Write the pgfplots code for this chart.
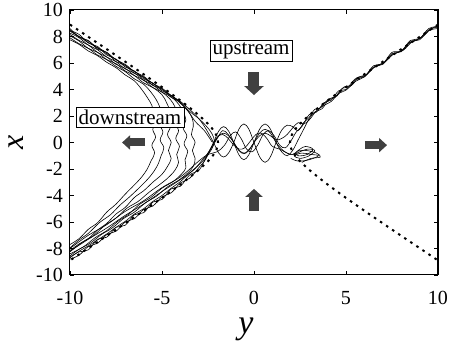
\documentclass[border=0pt]{standalone}
\usepackage{pgfplots}
\pgfplotsset{compat=1.18}
\usepackage{fontspec}
\setmainfont{Liberation Serif}
\usetikzlibrary{arrows.meta}

\begin{document}
\begin{tikzpicture}
\begin{axis}[
  scale only axis, width=368pt, height=265pt,
  xmin=-10,xmax=10,ymin=-10,ymax=10,
  xtick={-10,-5,0,5,10}, ytick={-10,-8,-6,-4,-2,0,2,4,6,8,10},
  tick align=inside, major tick length=4pt,
  axis line style={line width=1pt},
  every tick/.style={line width=0.8pt,black},
  /pgf/number format/assume math mode=true,
  tick label style={font=\fontsize{20}{24}\selectfont, inner sep=1pt},
  xticklabel style={yshift=-15pt},
  yticklabel style={xshift=-6pt},
  xlabel={\fontsize{34}{34}\selectfont\itshape y},
  ylabel={\fontsize{32}{32}\selectfont\itshape x},
  every axis x label/.style={at={(axis description cs:0.478,-0.204)},anchor=center},
  every axis y label/.style={at={(axis description cs:-0.146,0.5)},anchor=center,rotate=90},
  traj/.style={black, line width=0.6pt, smooth, tension=0.6},
]
% dashed boundary (left branch)
\addplot[black, line width=2pt, dash pattern=on 2.5pt off 4.8pt, smooth, tension=0.4] coordinates {
(-10,8.90) (-9,7.97) (-8,7.04) (-7,6.10) (-6,5.15) (-5,4.18) (-4.5,3.68) (-4,3.17) (-3.5,2.63) (-3,2.06) (-2.5,1.41) (-2.25,1.01) (-2.1,0.70) (-2.0,0.38) (-1.955,0)
(-2.0,-0.38) (-2.1,-0.70) (-2.25,-1.01) (-2.5,-1.41) (-3,-2.06) (-3.5,-2.63) (-4,-3.17) (-4.5,-3.68) (-5,-4.18) (-6,-5.15) (-7,-6.10) (-8,-7.04) (-9,-7.97) (-10,-8.90)};
% dashed boundary (right branch)
\addplot[black, line width=2pt, dash pattern=on 2.5pt off 4.8pt, smooth, tension=0.4] coordinates {
(10,8.90) (9,7.97) (8,7.04) (7,6.10) (6,5.15) (5,4.18) (4.5,3.68) (4,3.17) (3.5,2.63) (3,2.06) (2.5,1.41) (2.25,1.01) (2.1,0.70) (2.0,0.38) (1.955,0)
(2.0,-0.38) (2.1,-0.70) (2.25,-1.01) (2.5,-1.41) (3,-2.06) (3.5,-2.63) (4,-3.17) (4.5,-3.68) (5,-4.18) (6,-5.15) (7,-6.10) (8,-7.04) (9,-7.97) (10,-8.90)};

% downstream trajectories
\addplot[traj] coordinates {
(-10,7.75) (-9.5,7.4) (-9,6.9) (-8.5,6.55) (-8,6.05) (-7.5,5.65) (-7,5.1) (-6.5,4.65) (-6.1,4.0) (-5.8,3.4) (-5.55,2.8) (-5.45,2.2) (-5.3,1.6) (-5.5,1.0) (-5.35,0.4) (-5.55,-0.2) (-5.4,-0.8) (-5.6,-1.4) (-5.8,-2.0) (-6.1,-2.6) (-6.5,-3.2) (-7,-3.9) (-7.5,-4.65) (-8,-5.25) (-8.5,-6.05) (-9,-6.55) (-9.5,-7.25) (-10,-7.7)};
\addplot[traj] coordinates {
(-10,7.9) (-9.5,7.45) (-9,7.1) (-8.5,6.6) (-8,6.25) (-7.5,5.75) (-7,5.35) (-6.5,4.8) (-6,4.4) (-5.6,3.8) (-5.3,3.2) (-5.1,2.6) (-5.0,2.0) (-5.15,1.4) (-4.95,0.8) (-5.1,0.2) (-4.9,-0.4) (-5.05,-1.0) (-5.2,-1.6) (-5.45,-2.2) (-5.8,-2.8) (-6.3,-3.5) (-6.8,-4.15) (-7.3,-4.75) (-7.8,-5.45) (-8.4,-6.05) (-9,-6.85) (-9.5,-7.35) (-10,-7.95)};
\addplot[traj] coordinates {
(-10,8.05) (-9.5,7.65) (-9,7.1) (-8.5,6.8) (-8,6.25) (-7.5,5.95) (-7,5.4) (-6.5,5.05) (-6,4.5) (-5.5,4.15) (-5.0,3.6) (-4.75,3.0) (-4.6,2.4) (-4.75,1.8) (-4.55,1.2) (-4.7,0.6) (-4.5,0.0) (-4.65,-0.6) (-4.5,-1.2) (-4.7,-1.8) (-5.0,-2.4) (-5.5,-3.0) (-6,-3.65) (-6.5,-4.15) (-7,-4.9) (-7.5,-5.4) (-8,-6.1) (-8.5,-6.6) (-9,-7.25) (-9.5,-7.65) (-10,-8.15)};
\addplot[traj] coordinates {
(-10,8.15) (-9.5,7.7) (-9,7.35) (-8.5,6.8) (-8,6.45) (-7.5,5.9) (-7,5.6) (-6.5,5.05) (-6,4.7) (-5.5,4.15) (-5,3.8) (-4.55,3.25) (-4.3,2.7) (-4.15,2.1) (-4.3,1.5) (-4.1,0.9) (-4.25,0.3) (-4.05,-0.3) (-4.2,-0.9) (-4.1,-1.5) (-4.3,-2.1) (-4.7,-2.7) (-5.2,-3.25) (-5.7,-3.75) (-6.3,-4.45) (-6.9,-4.95) (-7.5,-5.7) (-8.1,-6.25) (-8.7,-7.0) (-9.3,-7.5) (-10,-8.25)};
\addplot[traj] coordinates {
(-10,8.25) (-9.5,7.9) (-9,7.35) (-8.5,7.0) (-8,6.45) (-7.5,6.1) (-7,5.55) (-6.5,5.25) (-6,4.7) (-5.5,4.35) (-5,3.8) (-4.5,3.45) (-4.1,2.9) (-3.85,2.3) (-3.7,1.7) (-3.85,1.1) (-3.65,0.5) (-3.8,-0.1) (-3.6,-0.7) (-3.75,-1.3) (-3.7,-1.9) (-3.95,-2.4) (-4.4,-2.95) (-5,-3.45) (-5.6,-4.15) (-6.2,-4.65) (-6.8,-5.4) (-7.4,-5.95) (-8,-6.65) (-8.6,-7.15) (-9.3,-7.9) (-10,-8.4)};
\addplot[traj] coordinates {
(-10,8.45) (-9.5,8.15) (-9,7.5) (-8.5,7.25) (-8,6.6) (-7.5,6.3) (-7,5.7) (-6.5,5.4) (-6,4.8) (-5.5,4.5) (-5,3.9) (-4.5,3.55) (-4,3.0) (-3.6,2.4) (-3.35,1.8) (-3.3,1.2) (-3.4,0.6) (-3.2,0.0) (-3.35,-0.6) (-3.2,-1.2) (-3.3,-1.8) (-3.6,-2.3) (-4.1,-2.85) (-4.7,-3.35) (-5.3,-4.05) (-5.9,-4.55) (-6.5,-5.25) (-7.1,-5.75) (-7.7,-6.45) (-8.3,-6.95) (-8.9,-7.6) (-9.5,-8.05) (-10,-8.55)};
\addplot[traj] coordinates {
(-10,8.6) (-9.5,7.95) (-9,7.7) (-8.5,7.05) (-8,6.8) (-7.5,6.1) (-7,5.85) (-6.5,5.2) (-6,4.95) (-5.5,4.3) (-5,4.05) (-4.5,3.4) (-4,3.05) (-3.5,2.35) (-3,1.8) (-2.6,1.25) (-2.3,0.7) (-2.15,0.1) (-2.3,-0.5) (-2.6,-1.1) (-3.0,-1.7) (-3.5,-2.3) (-4,-2.95) (-4.5,-3.45) (-5,-4.0) (-5.5,-4.45) (-6,-5.0) (-6.5,-5.4) (-7,-5.95) (-7.5,-6.4) (-8,-6.9) (-8.5,-7.35) (-9,-7.8) (-9.5,-8.2) (-10,-8.7)};

% trajectories through the centre
\addplot[traj] coordinates {
(-10,8.45) (-9.5,8.0) (-9,7.65) (-8.5,7.15) (-8,6.8) (-7.5,6.25) (-7,5.9) (-6.5,5.35) (-6,5.0) (-5.5,4.45) (-5,4.1) (-4.5,3.55) (-4,3.1) (-3.5,2.5) (-3.0,1.8) (-2.6,1.0) (-2.2,0)
(-1.925,-0.78) (-1.65,-1.1) (-1.375,-0.78) (-1.1,0) (-0.825,0.99) (-0.55,1.4) (-0.275,0.99) (0,0) (0.3,-1.06) (0.6,-1.5) (0.9,-1.06) (1.2,0) (1.5,0.92) (1.8,1.3) (2.1,1.2) (2.4,0.9)
(2.7,1.5) (3.0,1.9) (3.3,2.5) (3.6,2.6) (4.0,3.2) (4.4,3.4) (4.8,4.1) (5.2,4.2) (5.6,4.9) (6.0,5.0) (6.5,5.7) (7.0,5.9) (7.5,6.7) (8.0,6.85) (8.5,7.6) (9.0,7.75) (9.5,8.5) (10,8.7)};
\addplot[traj] coordinates {
(-10,-8.8) (-9.5,-8.5) (-9,-7.85) (-8.5,-7.6) (-8,-6.95) (-7.5,-6.7) (-7,-6.0) (-6.5,-5.75) (-6,-5.05) (-5.5,-4.8) (-5,-4.1) (-4.5,-3.8) (-4,-3.05) (-3.5,-2.7) (-3.0,-1.9) (-2.6,-1.2) (-2.2,0)
(-1.925,0.85) (-1.65,1.2) (-1.375,0.85) (-1.1,0) (-0.825,-0.92) (-0.55,-1.3) (-0.275,-0.92) (0,0) (0.3,0.99) (0.6,1.4) (0.9,0.99) (1.2,0) (1.5,-0.7) (1.8,-1.0) (2.1,-0.6) (2.4,0.2)
(2.7,1.0) (3.0,1.8) (3.3,2.3) (3.7,2.55) (4.1,3.3) (4.5,3.5) (4.9,4.2) (5.3,4.3) (5.7,4.95) (6.1,5.1) (6.6,5.75) (7.1,6.05) (7.6,6.7) (8.1,6.95) (8.6,7.6) (9.1,7.9) (9.6,8.55) (10,8.8)};
\addplot[traj] coordinates {
(-10,-8.65) (-9.5,-8.25) (-9,-8.1) (-8.5,-7.3) (-8,-7.15) (-7.5,-6.4) (-7,-6.25) (-6.5,-5.45) (-6,-5.3) (-5.5,-4.5) (-5,-4.3) (-4.5,-3.5) (-4,-3.3) (-3.5,-2.45) (-3.0,-2.1) (-2.7,-1.4) (-2.5,-0.8) (-2.3,-0.3)
(-2.0,0.4) (-1.7,0.6) (-1.4,0.3) (-1.1,-0.2) (-0.8,-0.5) (-0.5,-0.4) (-0.2,0.1) (0.1,0.6) (0.4,0.7) (0.7,0.3) (1.0,-0.3) (1.4,-0.5) (1.8,-0.8) (2.1,-0.9)
(2.5,-0.7) (2.9,-0.5) (3.3,-0.6) (3.0,-1.0) (2.5,-1.2) (2.2,-1.0) (2.6,-0.8) (3.1,-0.9) (3.5,-1.0) (3.0,-1.3) (2.4,-1.4) (2.0,-1.2)};
\addplot[traj] coordinates {
(-10,8.4) (-9,7.55) (-8,6.7) (-7,5.8) (-6,4.9) (-5,4.0) (-4.2,3.2) (-3.6,2.4) (-3.2,1.6) (-2.7,0.9) (-2.4,0.3) (-2.2,0)
(-1.925,0.5) (-1.65,0.7) (-1.375,0.5) (-1.1,0) (-0.825,-0.6) (-0.55,-0.85) (-0.275,-0.6) (0,0) (0.3,0.7) (0.6,1.0) (0.9,0.7) (1.2,0) (1.5,-0.5) (1.8,-0.8) (2.1,-0.9)
(2.5,-0.5) (2.8,-0.3) (3.2,-0.5) (2.9,-0.9) (2.4,-1.0) (2.3,-0.7) (2.8,-0.6) (3.4,-0.8) (3.6,-1.1) (3.1,-1.2) (2.6,-1.5)};
\addplot[traj] coordinates {
(-10,-8.2) (-9,-7.3) (-8,-6.45) (-7,-5.5) (-6,-4.65) (-5,-3.7) (-4,-2.8) (-3.3,-2.1) (-2.8,-1.3) (-2.4,-0.6) (-2.0,0.3) (-1.7,0.9) (-1.4,0.6) (-1.1,0) (-0.8,-0.6) (-0.5,-0.8) (-0.2,-0.4) (0,0)
(0.3,0.5) (0.6,0.7) (0.9,0.5) (1.2,0.2) (1.5,0.3) (1.8,0.6) (2.1,1.1) (2.4,1.5) (2.7,1.4) (3.0,1.7) (3.4,2.4) (3.8,2.8) (4.2,3.1) (4.6,3.7) (5.0,3.95) (5.5,4.6) (6.0,4.95) (6.5,5.65) (7.0,5.95) (7.5,6.6) (8.0,6.9) (8.5,7.55) (9.0,7.85) (9.5,8.45) (10,8.6)};
\addplot[traj] coordinates {
(-10,-8.0) (-9,-7.0) (-8,-6.2) (-7,-5.2) (-6,-4.4) (-5,-3.4) (-4,-2.6) (-3.0,-1.4) (-2.5,-0.9) (-2.0,-0.7) (-1.6,-0.2) (-1.3,0.5) (-1.0,0.8) (-0.7,0.3) (-0.4,-0.5) (-0.1,-0.7) (0.2,-0.2) (0.5,0.6) (0.8,0.9) (1.1,0.5) (1.4,-0.2) (1.7,-0.4) (2.0,0.1) (2.3,0.8) (2.6,1.2)
(3.0,2.1) (3.4,2.3) (3.8,3.0) (4.2,3.2) (4.6,3.9) (5.0,4.0) (5.5,4.8) (6.0,4.95) (6.5,5.8) (7.0,5.95) (7.5,6.8) (8.0,6.9) (8.5,7.7) (9.0,7.85) (9.5,8.6) (10,8.75)};

% labels and arrows
\node[draw=black, line width=0.6pt, fill=white, inner sep=2.5pt, font=\fontsize{21}{24}\selectfont] at (axis cs:-0.16,6.9) {upstream};
\node[draw=black, line width=0.6pt, fill=white, inner sep=2.5pt, font=\fontsize{21}{24}\selectfont] at (axis cs:-6.74,1.89) {downstream};
\draw[black!75, line width=11pt, -{Triangle[width=19pt,length=9pt]}] (axis cs:0,5.32) -- (axis cs:0,3.58);
\draw[black!75, line width=10pt, -{Triangle[width=17pt,length=8pt]}] (axis cs:0,-5.17) -- (axis cs:0,-3.5);
\draw[black!75, line width=8pt, -{Triangle[width=14pt,length=8pt]}] (axis cs:-5.92,0) -- (axis cs:-7.17,0);
\draw[black!75, line width=8pt, -{Triangle[width=14pt,length=8pt]}] (axis cs:6.03,-0.2) -- (axis cs:7.23,-0.2);

\coordinate (bbl) at (rel axis cs:-0.1902,-0.2906);
\coordinate (btr) at (rel axis cs:1.0299,1.0377);
\end{axis}
\path (bbl) rectangle (btr);
\end{tikzpicture}
\end{document}
